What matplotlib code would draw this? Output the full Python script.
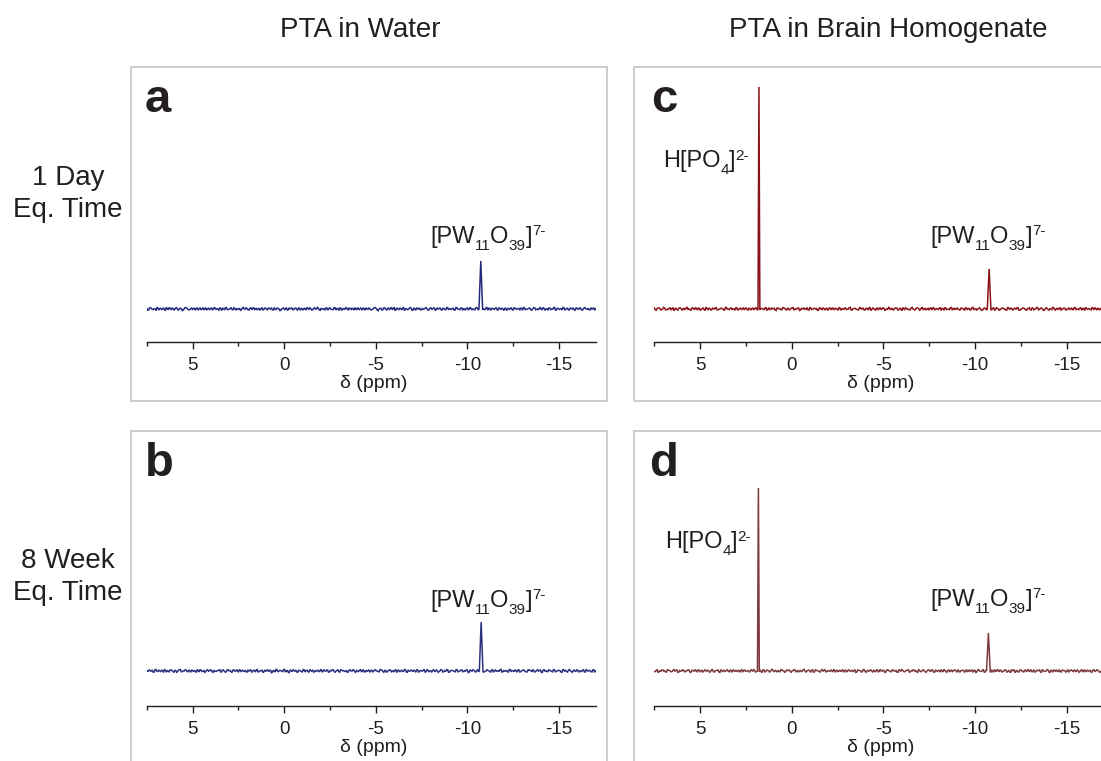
import numpy as np
import matplotlib
matplotlib.use("Agg")
import matplotlib.pyplot as plt
from matplotlib.patches import Rectangle
from matplotlib.ticker import MultipleLocator

plt.rcParams['font.family'] = ['Liberation Sans', 'DejaVu Sans']

# ---------------- data ----------------
ppm_limits = [7.5, -17.0]
major_ticks = [5, 0, -5, -10, -15]
column_titles = ["PTA in Water", "PTA in Brain Homogenate"]
row_labels = [["1 Day", "Eq. Time"], ["8 Week", "Eq. Time"]]
panel_letters = ["a", "b", "c", "d"]

# peaks: chemical shift (ppm), relative intensity (c's phosphate peak = 100), half base width (ppm)
peaks_a_ppm = [-10.73]
peaks_a_int = [21.6]
peaks_b_ppm = [-10.75]
peaks_b_int = [22.0]
peaks_c_ppm = [1.79, -10.77]
peaks_c_int = [100.0, 18.0]
peaks_d_ppm = [1.82, -10.73]
peaks_d_int = [82.4, 17.1]
peak_halfwidth = {"phosphate": 0.05, "pw11": 0.1}

# baseline noise (relative intensity), read as a band about +-0.7 wide
baseline_noise = [
    0.3, -0.5, 0.6, -0.2, 0.1, -0.7, 0.4, 0.2, -0.3, 0.5, -0.6, 0.0, 0.7, -0.4, 0.2, -0.1, 0.5, -0.5, 0.3, -0.8,
    0.1, 0.6, -0.2, -0.4, 0.4, 0.0, -0.6, 0.5, 0.2, -0.3, 0.6, -0.1, -0.5, 0.3, 0.1, -0.4, 0.7, -0.2, 0.0, 0.4,
    -0.7, 0.2, 0.5, -0.3, -0.1, 0.6, -0.5, 0.3, 0.1, -0.2, -0.6, 0.4, 0.0, 0.5, -0.4, 0.2, -0.3, 0.7, -0.1, -0.5,
    0.3, 0.1, -0.6, 0.4, -0.2, 0.5, 0.0, -0.4, 0.6, -0.3, 0.2, -0.7, 0.1, 0.4, -0.1, -0.5, 0.5, 0.2, -0.4, 0.3,
    -0.2, 0.6, -0.6, 0.0, 0.4, -0.3, 0.1, 0.5, -0.5, 0.2, -0.1, 0.7, -0.4, 0.3, 0.0, -0.6, 0.5, -0.2, 0.1, -0.3,
    0.6, -0.5, 0.2, 0.4, -0.7, 0.1, 0.3, -0.2, 0.5, -0.4, 0.0, 0.6, -0.3, -0.1, 0.4, -0.6, 0.2, 0.5, -0.2, 0.1,
    -0.4, 0.3, 0.6, -0.5, 0.0, 0.2, -0.3, 0.5, -0.6, 0.4, 0.1, -0.2, 0.7, -0.4, -0.1, 0.3, -0.5, 0.6, 0.0, -0.3,
    0.2, 0.4, -0.6, 0.1, 0.5, -0.2, -0.4, 0.3, 0.0, 0.6, -0.5, 0.2, -0.1, 0.4, -0.7, 0.5, 0.1, -0.3, 0.3, -0.2,
    0.6, -0.4, 0.0, 0.2, -0.5, 0.7, -0.1, -0.3, 0.4, 0.1, -0.6, 0.5, -0.2, 0.3, 0.0, -0.4, 0.6, -0.5, 0.2, 0.1,
    -0.3, 0.5, -0.6, 0.3, 0.2, -0.1, 0.4, -0.5, 0.6, -0.2, 0.0, 0.3, -0.7, 0.4, 0.1, -0.4, 0.5, -0.1, 0.2, -0.6,
    0.3, 0.6, -0.3, 0.0, 0.4, -0.5, 0.1, 0.5, -0.2, -0.4, 0.7, -0.3, 0.2, 0.0, -0.6, 0.4, -0.1, 0.5, -0.5, 0.3,
    -0.2, 0.1, 0.6, -0.4, 0.2, -0.6, 0.5, 0.0, -0.3, 0.4, -0.1, 0.6, -0.5, 0.1, 0.3, -0.2, -0.4, 0.5, 0.2, -0.6,
]

line_colors = {"a": "#252a7c", "b": "#2a317f", "c": "#8a1318", "d": "#7d3a3d"}
text_color = "#231f20"
box_color = "#c8c8c8"

# ---------------- layout (pixels) ----------------
W, H = 1101, 761
fig = plt.figure(figsize=(W / 100, H / 100), dpi=100)


def fx(x):
    return x / W


def fy(y):
    return 1 - y / H


def ftext(x, y, s, **kw):
    kw.setdefault("color", text_color)
    return fig.text(fx(x), fy(y), s, **kw)


# panel boxes
boxes = {"a": (131, 67, 607, 401), "c": (634, 67, 1115, 401),
         "b": (131, 431, 607, 775), "d": (634, 431, 1115, 775)}
for k, (x0, y0, x1, y1) in boxes.items():
    fig.add_artist(Rectangle((fx(x0), fy(y1)), (x1 - x0) / W, (y1 - y0) / H,
                             transform=fig.transFigure, fill=False,
                             edgecolor=box_color, linewidth=1.3))

col_x = [(146.7, 595.7), (654.3, 1103.3)]
row_y = [(342, 67), (706, 431)]  # spine, top
row_ybottom = [-14.9, -15.8]
px_per_unit = 2.22

spectra = {
    "a": (peaks_a_ppm, peaks_a_int, ["pw11"], 0),
    "b": (peaks_b_ppm, peaks_b_int, ["pw11"], 57),
    "c": (peaks_c_ppm, peaks_c_int, ["phosphate", "pw11"], 113),
    "d": (peaks_d_ppm, peaks_d_int, ["phosphate", "pw11"], 171),
}
panel_pos = {"a": (0, 0), "b": (1, 0), "c": (0, 1), "d": (1, 1)}


def build_spectrum(pos, ints, kinds, shift):
    base = np.array(baseline_noise)
    first = np.roll(base, shift)
    second = np.roll(base, shift + 97)[::-1]
    noise = np.empty(2 * len(base))
    noise[0::2] = first
    noise[1::2] = second
    x = np.linspace(ppm_limits[0], ppm_limits[1], len(noise))
    keep = np.ones(len(x), bool)
    extra_x, extra_y = [], []
    for p, h, k in zip(pos, ints, kinds):
        w = peak_halfwidth[k]
        keep &= np.abs(x - p) > w
        extra_x += [p + w, p, p - w]
        extra_y += [0.0, h, -0.4]
    xs = np.concatenate([x[keep], extra_x])
    ys = np.concatenate([noise[keep], extra_y])
    order = np.argsort(-xs)
    return xs[order], ys[order]


for key, (pos, ints, kinds, shift) in spectra.items():
    r, c = panel_pos[key]
    L, R = col_x[c]
    spine, top = row_y[r]
    ax = fig.add_axes([fx(L), fy(spine), (R - L) / W, (spine - top) / H])
    ax.patch.set_alpha(0)
    ybot = row_ybottom[r]
    ax.set_ylim(ybot, ybot + (spine - top) / px_per_unit)
    ax.set_xlim(*ppm_limits)
    xs, ys = build_spectrum(pos, ints, kinds, shift)
    ax.plot(xs, ys, color=line_colors[key], linewidth=1.1, solid_joinstyle="miter")
    for s in ["top", "left", "right"]:
        ax.spines[s].set_visible(False)
    ax.spines["bottom"].set_linewidth(1.0)
    ax.spines["bottom"].set_color(text_color)
    ax.set_yticks([])
    ax.set_xticks(major_ticks)
    ax.set_xticklabels([str(t) for t in major_ticks])
    ax.xaxis.set_minor_locator(MultipleLocator(2.5))
    ax.tick_params(axis="x", which="major", length=5, width=1.0, direction="out",
                   labelsize=13.5, pad=5.5, color=text_color, labelcolor=text_color)
    ax.tick_params(axis="x", which="minor", length=3, width=1.0, direction="out",
                   color=text_color)
    ftext((L + R) / 2 + 2, spine + 46, "δ (ppm)", fontsize=14, ha="center", va="baseline")

# column titles
ftext(360, 37, column_titles[0], fontsize=20, ha="center", va="baseline")
ftext(888, 37, column_titles[1], fontsize=20, ha="center", va="baseline")

# row labels
ftext(68, 185, row_labels[0][0], fontsize=20, ha="center", va="baseline")
ftext(68, 217, row_labels[0][1], fontsize=20, ha="center", va="baseline")
ftext(68, 568, row_labels[1][0], fontsize=20, ha="center", va="baseline")
ftext(68, 600, row_labels[1][1], fontsize=20, ha="center", va="baseline")

# panel letters
letter_pos = {"a": (145, 112), "b": (145, 476), "c": (651, 112), "d": (649, 476)}
for k, (x, y) in letter_pos.items():
    ftext(x, y, k, fontsize=34, fontweight="bold", ha="left", va="baseline")

# chemical labels
renderer = fig.canvas.get_renderer()


def chem(x, y, segments, size=17, small=11, drop=7, raise_=8):
    for s, kind in segments:
        if kind == "n":
            t = ftext(x, y, s, fontsize=size, ha="left", va="baseline")
        elif kind == "sub":
            t = ftext(x, y + drop, s, fontsize=small, ha="left", va="baseline")
        else:
            t = ftext(x, y - raise_, s, fontsize=small, ha="left", va="baseline")
        x += t.get_window_extent(renderer).width


pw11 = [("[PW", "n"), ("11", "sub"), ("O", "n"), ("39", "sub"), ("]", "n"), ("7-", "sup")]
hpo4 = [("H[PO", "n"), ("4", "sub"), ("]", "n"), ("2-", "sup")]
chem(430, 243, pw11)
chem(430, 607, pw11)
chem(930, 243, pw11)
chem(930, 606, pw11)
chem(663, 167, hpo4, raise_=7)
chem(665, 548, hpo4, raise_=7)

fig.savefig("out.png", dpi=100)
